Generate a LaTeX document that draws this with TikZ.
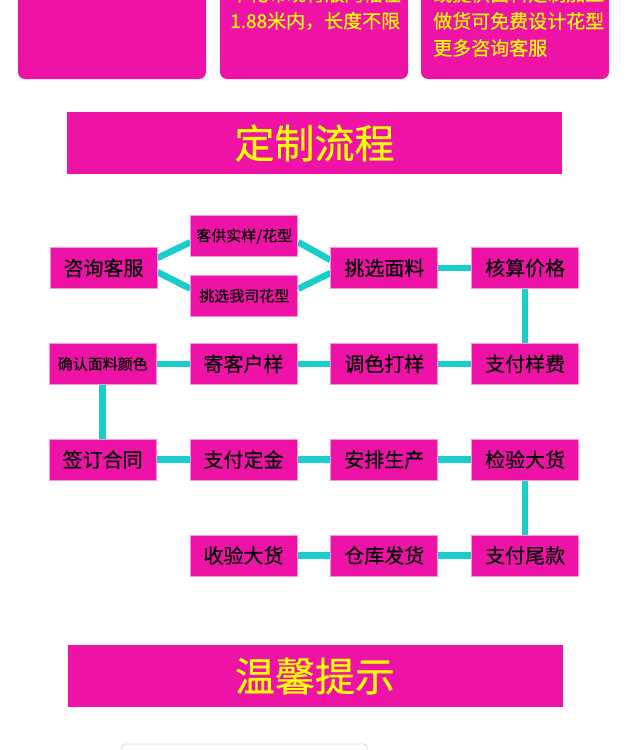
\documentclass[tikz,border=0pt]{standalone}
\usepackage{fontspec}
\setmainfont{Noto Sans CJK SC}
\newfontfamily\heifont[FakeBold=0.5]{Noto Sans CJK SC}
\usetikzlibrary{positioning,backgrounds}
\definecolor{rose}{HTML}{EF12A7}
\definecolor{aqua}{HTML}{1ACCCC}
\definecolor{lemon}{HTML}{FFFF00}

\begin{document}
\begin{tikzpicture}[
    x=1pt, y=1pt,
    node distance=54pt and 33pt,
    flowbox/.style={draw=rose!45, line width=0.8pt, fill=rose, minimum width=107pt, minimum height=41pt, inner sep=0pt, font=\heifont\fontsize{20}{20}\selectfont},
    smallbox/.style={flowbox, font=\heifont\fontsize{15}{15}\selectfont},
    banner/.style={fill=rose, minimum width=495pt, minimum height=62pt, inner sep=0pt, text=lemon, font=\heifont\fontsize{40}{40}\selectfont},
    infotext/.style={anchor=west, inner sep=0pt, text=lemon, font=\heifont\fontsize{19}{27}\selectfont, align=left},
    link/.style={aqua, line width=6.5pt}
]
\useasboundingbox (0,0) rectangle (629,-750);
\clip (0,0) rectangle (629,-750);

% top info cards
\fill[rose, rounded corners=7pt] (18,20) rectangle (206,-79);
\fill[rose, rounded corners=7pt] (220,20) rectangle (408,-79);
\fill[rose, rounded corners=7pt] (421,20) rectangle (609,-79);
\node[infotext] (info2) at (230,-7.5) {本花布现行版门幅在\\1.88米内，长度不限};
\node[infotext] (info3) at (433,-21) {或提供面料定制加工\\做货可免费设计花型\\更多咨询客服};

% titles
\node[banner] (title) at (314.5,-143) {定制流程};
\node[banner] (tips) at (315,-676) {温馨提示};

% flow
\node[flowbox] (zixun) at (103.5,-268) {咨询客服};
\node[smallbox, above right=-10pt and 33pt of zixun] (kegong) {客供实样/花型};
\node[smallbox, below right=-14pt and 33pt of zixun] (wosi) {挑选我司花型};
\node[flowbox, right=173pt of zixun] (mianliao) {挑选面料};
\node[flowbox, right=of mianliao] (hesuan) {核算价格};
\node[flowbox, below=of hesuan] (yangfei) {支付样费};
\node[flowbox, left=of yangfei] (tiaose) {调色打样};
\node[flowbox, left=of tiaose] (jiyang) {寄客户样};
\node[smallbox, left=of jiyang] (queren) {确认面料颜色};
\node[flowbox, below=of queren] (hetong) {签订合同};
\node[flowbox, right=of hetong] (dingjin) {支付定金};
\node[flowbox, right=of dingjin] (shengchan) {安排生产};
\node[flowbox, right=of shengchan] (jianyan) {检验大货};
\node[flowbox, below=of jianyan] (weikuan) {支付尾款};
\node[flowbox, left=of weikuan] (fahuo) {仓库发货};
\node[flowbox, left=of fahuo] (shouhuo) {收验大货};

\begin{scope}[on background layer]
\draw[link] ([yshift=10pt]zixun.east) -- ([yshift=-6pt]kegong.west);
\draw[link] ([yshift=-4pt]zixun.east) -- ([yshift=7pt]wosi.west);
\draw[link] ([yshift=-6pt]kegong.east) -- ([yshift=8pt]mianliao.west);
\draw[link] ([yshift=7pt]wosi.east) -- ([yshift=-5pt]mianliao.west);
\draw[link] (mianliao) -- (hesuan);
\draw[link] (hesuan) -- (yangfei);
\draw[link] (yangfei) -- (tiaose);
\draw[link] (tiaose) -- (jiyang);
\draw[link] (jiyang) -- (queren);
\draw[link] (queren) -- (hetong);
\draw[link] (hetong) -- (dingjin);
\draw[link] (dingjin) -- (shengchan);
\draw[link] (shengchan) -- (jianyan);
\draw[link] (jianyan) -- (weikuan);
\draw[link] (weikuan) -- (fahuo);
\draw[link] (fahuo) -- (shouhuo);
\end{scope}

% card peeking in at the bottom
\draw[black!15, line width=0.8pt, rounded corners=3pt] (122,-744) rectangle (367,-770);
\end{tikzpicture}
\end{document}
